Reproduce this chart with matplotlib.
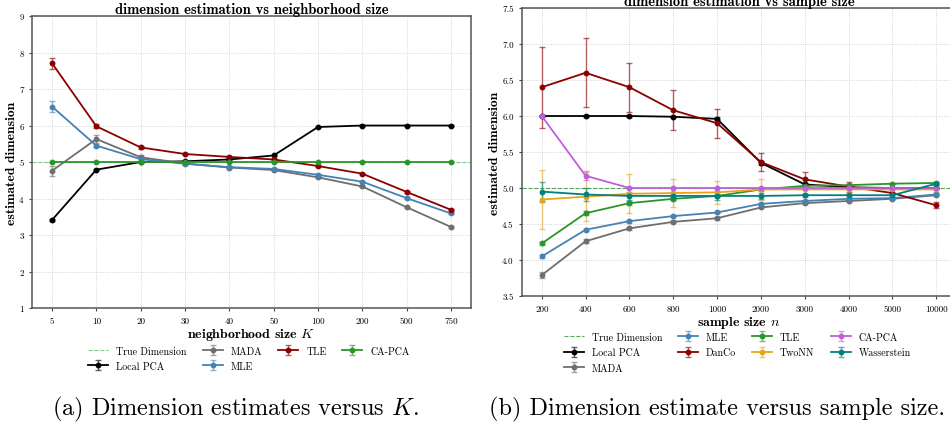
import numpy as np
import matplotlib
matplotlib.use("Agg")
import matplotlib.pyplot as plt

plt.rcParams["font.family"] = "serif"
plt.rcParams["font.serif"] = ["cmr10", "DejaVu Serif"]
plt.rcParams["mathtext.fontset"] = "cm"
plt.rcParams["axes.unicode_minus"] = False

# ---- panel (a): estimate vs neighborhood size K ----
k_labels = ["5", "10", "20", "30", "40", "50", "100", "200", "500", "750"]

k_local_pca = [3.41, 4.79, 5.00, 5.02, 5.07, 5.18, 5.96, 6.00, 6.00, 6.00]
k_local_pca_err = [0.02, 0.02, 0.01, 0.01, 0.01, 0.01, 0.01, 0.01, 0.01, 0.01]
k_mada = [4.76, 5.63, 5.13, 4.96, 4.85, 4.78, 4.58, 4.33, 3.76, 3.22]
k_mada_err = [0.14, 0.10, 0.05, 0.03, 0.02, 0.02, 0.02, 0.02, 0.02, 0.02]
k_mle = [6.52, 5.45, 5.08, 4.95, 4.86, 4.81, 4.65, 4.46, 4.01, 3.59]
k_mle_err = [0.15, 0.05, 0.03, 0.02, 0.02, 0.02, 0.02, 0.02, 0.02, 0.02]
k_tle = [7.71, 5.98, 5.40, 5.22, 5.14, 5.07, 4.89, 4.68, 4.18, 3.69]
k_tle_err = [0.15, 0.05, 0.03, 0.02, 0.02, 0.02, 0.02, 0.02, 0.02, 0.02]
k_ca_pca = [5.0, 5.0, 5.0, 5.0, 5.0, 5.0, 5.0, 5.0, 5.0, 5.0]
k_ca_pca_err = [0.0, 0.0, 0.0, 0.0, 0.0, 0.0, 0.0, 0.0, 0.0, 0.0]

# ---- panel (b): estimate vs sample size n ----
n_labels = ["200", "400", "600", "800", "1000", "2000", "3000", "4000", "5000", "10000"]

n_local_pca = [6.00, 6.00, 6.00, 5.99, 5.96, 5.35, 5.05, 5.01, 5.00, 5.00]
n_local_pca_err = [0.01, 0.01, 0.01, 0.01, 0.02, 0.03, 0.02, 0.01, 0.01, 0.01]
n_mada = [3.79, 4.26, 4.44, 4.53, 4.58, 4.73, 4.79, 4.82, 4.85, 4.90]
n_mada_err = [0.04, 0.03, 0.02, 0.02, 0.02, 0.01, 0.01, 0.01, 0.01, 0.01]
n_mle = [4.05, 4.42, 4.54, 4.61, 4.66, 4.78, 4.82, 4.85, 4.86, 4.91]
n_mle_err = [0.02, 0.02, 0.02, 0.01, 0.01, 0.01, 0.01, 0.01, 0.01, 0.01]
n_danco = [6.40, 6.60, 6.40, 6.08, 5.90, 5.36, 5.12, 5.02, 4.93, 4.76]
n_danco_err = [0.56, 0.48, 0.34, 0.28, 0.20, 0.12, 0.10, 0.07, 0.05, 0.04]
n_tle = [4.23, 4.65, 4.79, 4.85, 4.89, 4.98, 5.03, 5.04, 5.06, 5.07]
n_tle_err = [0.02, 0.03, 0.03, 0.02, 0.02, 0.02, 0.01, 0.01, 0.01, 0.01]
n_twonn = [4.84, 4.88, 4.92, 4.93, 4.94, 4.98, 4.98, 4.98, 4.98, 4.98]
n_twonn_err = [0.41, 0.34, 0.27, 0.20, 0.16, 0.14, 0.05, 0.04, 0.03, 0.03]
n_ca_pca = [6.00, 5.17, 5.00, 5.00, 5.00, 5.00, 5.00, 5.00, 5.00, 5.00]
n_ca_pca_err = [0.0, 0.06, 0.0, 0.0, 0.0, 0.0, 0.0, 0.0, 0.0, 0.0]
n_wasserstein = [4.95, 4.91, 4.89, 4.89, 4.89, 4.89, 4.90, 4.90, 4.90, 5.06]
n_wasserstein_err = [0.14, 0.09, 0.06, 0.05, 0.05, 0.04, 0.02, 0.02, 0.02, 0.02]

true_dim = 5

BLACK = "black"
GRAY = "#6e6e6e"
BLUE = "#4682b4"
DARKRED = "#8b0000"
GREEN = "#2a962a"
GOLD = "#e6a520"
ORCHID = "#c060d8"
TEAL = "#008080"

BOLD = "cmb10"


def draw_series(ax, x, y, err, color, label):
    eb = ax.errorbar(
        x, y, yerr=err,
        color=color, label=label,
        marker="o", markersize=3.2, linewidth=1.3,
        elinewidth=1.0, capsize=2.5, capthick=1.0,
    )
    for line in eb[1]:
        line.set_alpha(0.6)
    for line in eb[2]:
        line.set_alpha(0.6)


def style_axes(ax, labels, title, xlabel):
    ax.set_xticks(np.arange(len(labels)))
    ax.set_xticklabels(labels)
    ax.set_xlim(-0.45, len(labels) - 0.55)
    ax.tick_params(labelsize=6.5, length=2.5, width=0.8, color="#444444")
    ax.grid(True, linestyle=":", linewidth=0.6, color="#c8c8c8")
    ax.set_axisbelow(True)
    for spine in ax.spines.values():
        spine.set_color("#555555")
        spine.set_linewidth(1.1)
    ax.set_title(title, fontsize=10.5, fontfamily=BOLD, pad=2)
    ax.set_xlabel(xlabel, fontsize=10, fontfamily=BOLD, labelpad=1)
    ax.set_ylabel("estimated dimension", fontsize=9.8, fontfamily=BOLD, labelpad=1)


fig = plt.figure(figsize=(9.5, 4.27), dpi=100)

# panel (a)
ax1 = fig.add_axes([0.0337, 0.2763, 0.4621, 0.6838])
xk = np.arange(len(k_labels))
ax1.axhline(true_dim, color="#3cb043", linestyle="--", linewidth=0.8, alpha=0.6,
            label="True Dimension")
draw_series(ax1, xk, k_local_pca, k_local_pca_err, BLACK, "Local PCA")
draw_series(ax1, xk, k_mada, k_mada_err, GRAY, "MADA")
draw_series(ax1, xk, k_mle, k_mle_err, BLUE, "MLE")
draw_series(ax1, xk, k_tle, k_tle_err, DARKRED, "TLE")
draw_series(ax1, xk, k_ca_pca, k_ca_pca_err, GREEN, "CA-PCA")
ax1.set_ylim(1, 9)
ax1.set_yticks(np.arange(1, 10))
style_axes(ax1, k_labels, "dimension estimation vs neighborhood size",
           "neighborhood size $K$")
fig.legend(*ax1.get_legend_handles_labels(), loc="upper center",
           bbox_to_anchor=(0.262, 0.203), ncol=4, frameon=False, fontsize=7.2,
           handlelength=2.0, columnspacing=1.6, labelspacing=0.55, borderpad=0.2)

# panel (b)
ax2 = fig.add_axes([0.5495, 0.3044, 0.4568, 0.6745])
xn = np.arange(len(n_labels))
ax2.axhline(true_dim, color="#2a962a", linestyle="--", linewidth=0.8, alpha=0.8,
            label="True Dimension")
draw_series(ax2, xn, n_local_pca, n_local_pca_err, BLACK, "Local PCA")
draw_series(ax2, xn, n_mada, n_mada_err, GRAY, "MADA")
draw_series(ax2, xn, n_mle, n_mle_err, BLUE, "MLE")
draw_series(ax2, xn, n_danco, n_danco_err, DARKRED, "DanCo")
draw_series(ax2, xn, n_tle, n_tle_err, GREEN, "TLE")
draw_series(ax2, xn, n_twonn, n_twonn_err, GOLD, "TwoNN")
draw_series(ax2, xn, n_ca_pca, n_ca_pca_err, ORCHID, "CA-PCA")
draw_series(ax2, xn, n_wasserstein, n_wasserstein_err, TEAL, "Wasserstein")
ax2.set_ylim(3.5, 7.5)
ax2.set_yticks(np.arange(3.5, 7.51, 0.5))
ax2.yaxis.set_major_formatter(matplotlib.ticker.FormatStrFormatter("%.1f"))
style_axes(ax2, n_labels, "dimension estimation vs sample size", "sample size $n$")
fig.legend(*ax2.get_legend_handles_labels(), loc="upper center",
           bbox_to_anchor=(0.776, 0.236), ncol=4, frameon=False, fontsize=7.2,
           handlelength=2.0, columnspacing=1.6, labelspacing=0.6, borderpad=0.2)

# sub-figure captions
fig.text(0.055, 0.042, "(a) Dimension estimates versus $K$.", fontsize=17.5,
         ha="left", va="center")
fig.text(0.515, 0.042, "(b) Dimension estimate versus sample size.", fontsize=17.5,
         ha="left", va="center")

fig.savefig("out.png", dpi=100)
